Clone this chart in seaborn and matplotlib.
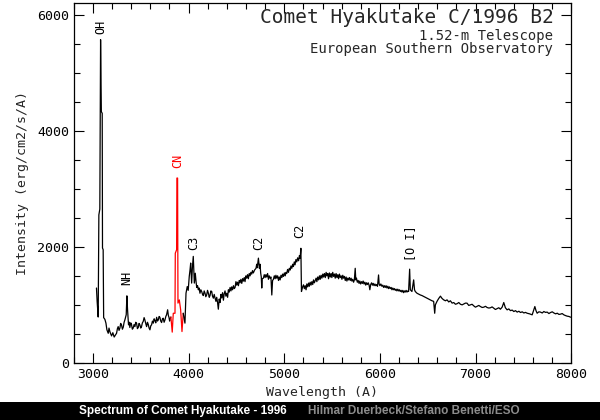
import matplotlib
matplotlib.use("Agg")
import matplotlib.pyplot as plt
from matplotlib.patches import Rectangle
from matplotlib.ticker import MultipleLocator
import pandas as pd
import seaborn as sns

# spectrum: wavelength (A) and intensity
wave_blue = [3037, 3044, 3055, 3062, 3072, 3080, 3088, 3097, 3100, 3107, 3112, 3125, 3136, 3146,
             3160, 3168, 3177, 3186, 3195, 3208, 3222, 3235, 3247, 3256, 3264, 3273, 3282, 3290,
             3299, 3308, 3317, 3326, 3334, 3348, 3355, 3362, 3372, 3380, 3386, 3395, 3403, 3412,
             3421, 3430, 3439, 3447, 3456, 3465, 3474, 3482, 3491, 3500, 3508, 3517, 3526, 3535,
             3543, 3552, 3561, 3570, 3578, 3587, 3596, 3605, 3613, 3622, 3631, 3640, 3648, 3657,
             3666, 3675, 3683, 3692, 3700, 3709, 3718, 3727, 3735, 3744, 3753, 3762, 3770, 3781,
             3788, 3795, 3802, 3809, 3815]
flux_blue = [1290, 1060, 790, 2550, 2650, 5570, 4330, 4300, 1980, 1950, 780, 750, 685, 570,
             510, 600, 540, 500, 465, 520, 445, 480, 510, 590, 625, 560, 600, 680,
             655, 580, 615, 700, 740, 830, 1155, 915, 655, 700, 610, 690, 665, 580,
             600, 660, 625, 700, 685, 590, 610, 680, 655, 600, 625, 690, 715, 780,
             740, 680, 625, 700, 665, 600, 570, 640, 655, 720, 685, 760, 730, 690,
             785, 720, 740, 800, 785, 720, 695, 760, 770, 700, 740, 800, 830, 915,
             820, 785, 720, 770, 790]

wave_cn = [3815, 3829, 3840, 3858, 3861, 3875, 3878, 3885, 3889, 3903, 3917, 3931, 3944]
flux_cn = [790, 530, 855, 855, 1890, 1950, 3185, 3185, 1030, 1085, 915, 540, 855]

wave_red = [3944, 3962, 3973, 3986, 3996, 4007, 4015, 4022, 4032, 4040, 4049, 4060, 4070, 4078,
            4085, 4094, 4102, 4110, 4119, 4128, 4137, 4146, 4154, 4163, 4172, 4180, 4189, 4198,
            4207, 4216, 4224, 4233, 4242, 4250, 4259, 4268, 4277, 4286, 4294, 4303, 4311, 4320,
            4329, 4338, 4346, 4355, 4364, 4372, 4381, 4390, 4399, 4408, 4416, 4425, 4434, 4443,
            4451, 4460, 4469, 4478, 4486, 4495, 4503, 4512, 4521, 4530, 4538, 4547, 4556, 4565,
            4573, 4582, 4590, 4599, 4608, 4616, 4625, 4634, 4643, 4651, 4660, 4668, 4677, 4690,
            4705, 4712, 4718, 4724, 4730, 4740, 4747, 4754, 4760, 4765, 4770, 4782, 4791, 4800,
            4808, 4817, 4826, 4835, 4843, 4852, 4861, 4870, 4878, 4887, 4896, 4905, 4913, 4922,
            4931, 4940, 4948, 4957, 4966, 4975, 4983, 4992, 5001, 5010, 5018, 5026, 5035, 5044,
            5053, 5062, 5070, 5079, 5088, 5096, 5105, 5113, 5122, 5131, 5140, 5150, 5159, 5166,
            5174, 5177, 5180, 5190, 5201, 5210, 5219, 5228, 5236, 5245, 5254, 5262, 5271, 5280,
            5289, 5298, 5306, 5315, 5324, 5333, 5341, 5350, 5359, 5368, 5376, 5385, 5394, 5403,
            5411, 5420, 5429, 5438, 5446, 5455, 5463, 5472, 5481, 5490, 5498, 5507, 5516, 5525,
            5533, 5542, 5551, 5560, 5568, 5577, 5586, 5595, 5603, 5612, 5620, 5629, 5638, 5647,
            5655, 5664, 5672, 5681, 5690, 5699, 5707, 5716, 5725, 5733, 5742, 5748, 5755, 5764,
            5773, 5782, 5790, 5799, 5808, 5817, 5825, 5834, 5843, 5852, 5860, 5869, 5878, 5887,
            5895, 5904, 5913, 5922, 5930, 5939, 5948, 5957, 5966, 5975, 5986, 5992, 6000, 6010,
            6021, 6030, 6039, 6048, 6056, 6065, 6074, 6083, 6091, 6100, 6109, 6118, 6126, 6135,
            6144, 6152, 6161, 6170, 6178, 6187, 6196, 6205, 6213, 6222, 6230, 6240, 6248, 6257,
            6265, 6274, 6283, 6292, 6300, 6311, 6318, 6335, 6353, 6362, 6370, 6388, 6405, 6423,
            6440, 6458, 6475, 6493, 6510, 6527, 6545, 6562, 6573, 6580, 6597, 6615, 6633, 6650,
            6667, 6685, 6702, 6720, 6737, 6755, 6772, 6790, 6807, 6825, 6842, 6860, 6877, 6894,
            6911, 6929, 6946, 6964, 6981, 6999, 7016, 7034, 7051, 7069, 7086, 7104, 7121, 7139,
            7156, 7173, 7190, 7208, 7225, 7243, 7260, 7278, 7295, 7312, 7330, 7348, 7365, 7383,
            7400, 7418, 7435, 7453, 7470, 7488, 7505, 7522, 7539, 7565, 7592, 7606, 7620, 7632,
            7644, 7662, 7679, 7697, 7714, 7732, 7749, 7767, 7784, 7802, 7819, 7837, 7854, 7872,
            7889, 7906, 7923, 7941, 7958, 7976, 7994]
flux_red = [855, 685, 1200, 1315, 1250, 1490, 1600, 1720, 1375, 1650, 1835, 1375, 1545, 1400,
            1300, 1330, 1260, 1290, 1200, 1260, 1230, 1180, 1160, 1240, 1200, 1140, 1170, 1250,
            1200, 1130, 1160, 1240, 1230, 1150, 1115, 1180, 1115, 1060, 1130, 1040, 925, 1100,
            1040, 1180, 1120, 1210, 1080, 1190, 1240, 1150, 1200, 1130, 1260, 1220, 1300, 1240,
            1310, 1260, 1330, 1280, 1300, 1400, 1340, 1390, 1330, 1420, 1380, 1440, 1370, 1450,
            1410, 1470, 1400, 1500, 1460, 1520, 1450, 1540, 1500, 1560, 1530, 1590, 1550, 1600,
            1630, 1700, 1640, 1720, 1805, 1630, 1700, 1545, 1480, 1290, 1450, 1460, 1520, 1470,
            1520, 1480, 1540, 1440, 1500, 1460, 1480, 1170, 1420, 1440, 1500, 1450, 1510, 1460,
            1500, 1420, 1480, 1430, 1510, 1470, 1530, 1490, 1550, 1500, 1560, 1540, 1610, 1560,
            1630, 1600, 1670, 1630, 1700, 1660, 1740, 1690, 1780, 1740, 1810, 1760, 1850, 1800,
            1975, 1560, 1230, 1300, 1345, 1280, 1330, 1260, 1360, 1310, 1375, 1320, 1390, 1340,
            1400, 1350, 1430, 1380, 1420, 1460, 1400, 1480, 1430, 1500, 1440, 1510, 1460, 1530,
            1480, 1540, 1470, 1560, 1500, 1540, 1450, 1550, 1480, 1540, 1470, 1560, 1490, 1530,
            1460, 1540, 1470, 1520, 1450, 1530, 1470, 1500, 1440, 1510, 1460, 1490, 1420, 1480,
            1410, 1460, 1430, 1470, 1420, 1460, 1410, 1440, 1390, 1430, 1630, 1430, 1460, 1390,
            1420, 1370, 1410, 1360, 1400, 1370, 1410, 1360, 1390, 1340, 1380, 1350, 1380, 1340,
            1260, 1350, 1380, 1340, 1370, 1330, 1360, 1330, 1350, 1320, 1515, 1360, 1330, 1360,
            1320, 1340, 1300, 1330, 1300, 1330, 1290, 1320, 1280, 1310, 1280, 1300, 1260, 1290,
            1260, 1280, 1250, 1270, 1240, 1270, 1240, 1260, 1230, 1250, 1220, 1250, 1210, 1240,
            1220, 1250, 1220, 1240, 1230, 1615, 1260, 1230, 1430, 1260, 1230, 1200, 1185, 1170,
            1160, 1145, 1130, 1115, 1100, 1085, 1070, 1060, 855, 1000, 1060, 1110, 1150, 1110,
            1086, 1070, 1086, 1050, 1070, 1030, 1040, 1010, 1020, 1040, 1010, 1000, 1015, 1030,
            1029, 990, 1000, 1010, 983, 960, 975, 990, 971, 955, 960, 975, 954, 945,
            950, 965, 943, 920, 935, 950, 925, 960, 1040, 950, 914, 930, 900, 910,
            885, 900, 875, 890, 868, 880, 860, 870, 856, 845, 828, 900, 971, 900,
            856, 880, 875, 860, 885, 870, 875, 850, 868, 880, 860, 845, 856, 835,
            840, 850, 828, 815, 805, 800, 787]

# line labels: text, wavelength, intensity of the text foot, colour
line_names = ["OH", "NH", "CN", "C3", "C2", "C2", "[O I]"]
line_wave = [3083, 3358, 3882, 4049, 4730, 5166, 6318]
line_flux = [5660, 1350, 3360, 1950, 1950, 2150, 1750]
line_colors = ["black", "black", "red", "black", "black", "black", "black"]

sns.set_style("ticks")
plt.rcParams["font.family"] = ["DejaVu Sans Mono", "DejaVu Sans"]

fig = plt.figure(figsize=(6, 4.2), dpi=100)
ax = fig.add_axes([0.123, 0.136, 0.829, 0.858])

df_a = pd.DataFrame({"wave": wave_blue, "flux": flux_blue})
df_b = pd.DataFrame({"wave": wave_cn, "flux": flux_cn})
df_c = pd.DataFrame({"wave": wave_red, "flux": flux_red})
sns.lineplot(data=df_a, x="wave", y="flux", ax=ax, color="black", lw=0.9,
             estimator=None, sort=False)
sns.lineplot(data=df_b, x="wave", y="flux", ax=ax, color="red", lw=0.9,
             estimator=None, sort=False)
sns.lineplot(data=df_c, x="wave", y="flux", ax=ax, color="black", lw=0.9,
             estimator=None, sort=False)

for name, w, f, c in zip(line_names, line_wave, line_flux, line_colors):
    ax.text(w, f, name, rotation=90, ha="center", va="bottom", color=c, fontsize=8.5)

ax.set_xlim(2800, 8000)
ax.set_ylim(0, 6210)
ax.xaxis.set_major_locator(MultipleLocator(1000))
ax.xaxis.set_minor_locator(MultipleLocator(200))
ax.yaxis.set_major_locator(MultipleLocator(2000))
ax.yaxis.set_minor_locator(MultipleLocator(500))
ax.tick_params(which="both", direction="in", top=True, right=True, width=0.8,
               labelsize=9.5, colors="black")
ax.tick_params(which="major", length=7)
ax.tick_params(which="minor", length=4)
for s in ax.spines.values():
    s.set_linewidth(0.9)
    s.set_color("black")

ax.set_xlabel("Wavelength (A)", fontsize=9.5, labelpad=4)
ax.set_ylabel("Intensity (erg/cm2/s/A)", fontsize=9.5, labelpad=6)

ax.text(0.964, 0.942, "Comet Hyakutake C/1996 B2", transform=ax.transAxes,
        ha="right", va="baseline", fontsize=14)
ax.text(0.964, 0.927, "1.52-m Telescope\nEuropean Southern Observatory",
        transform=ax.transAxes, ha="right", va="top", multialignment="right",
        fontsize=10, linespacing=0.92)

# black caption strip at the bottom
fig.patches.append(Rectangle((0, 0), 1, 0.043, transform=fig.transFigure,
                             facecolor="black", edgecolor="none", zorder=0))
fig.text(0.132, 0.0215, "Spectrum of Comet Hyakutake - 1996", color="white",
         fontsize=8.5, fontweight="bold", family="Liberation Sans", va="center")
fig.text(0.513, 0.0215, "Hilmar Duerbeck/Stefano Benetti/ESO", color="#8c8c8c",
         fontsize=8.5, fontweight="bold", family="Liberation Sans", va="center")

fig.savefig("out.png", dpi=100)
